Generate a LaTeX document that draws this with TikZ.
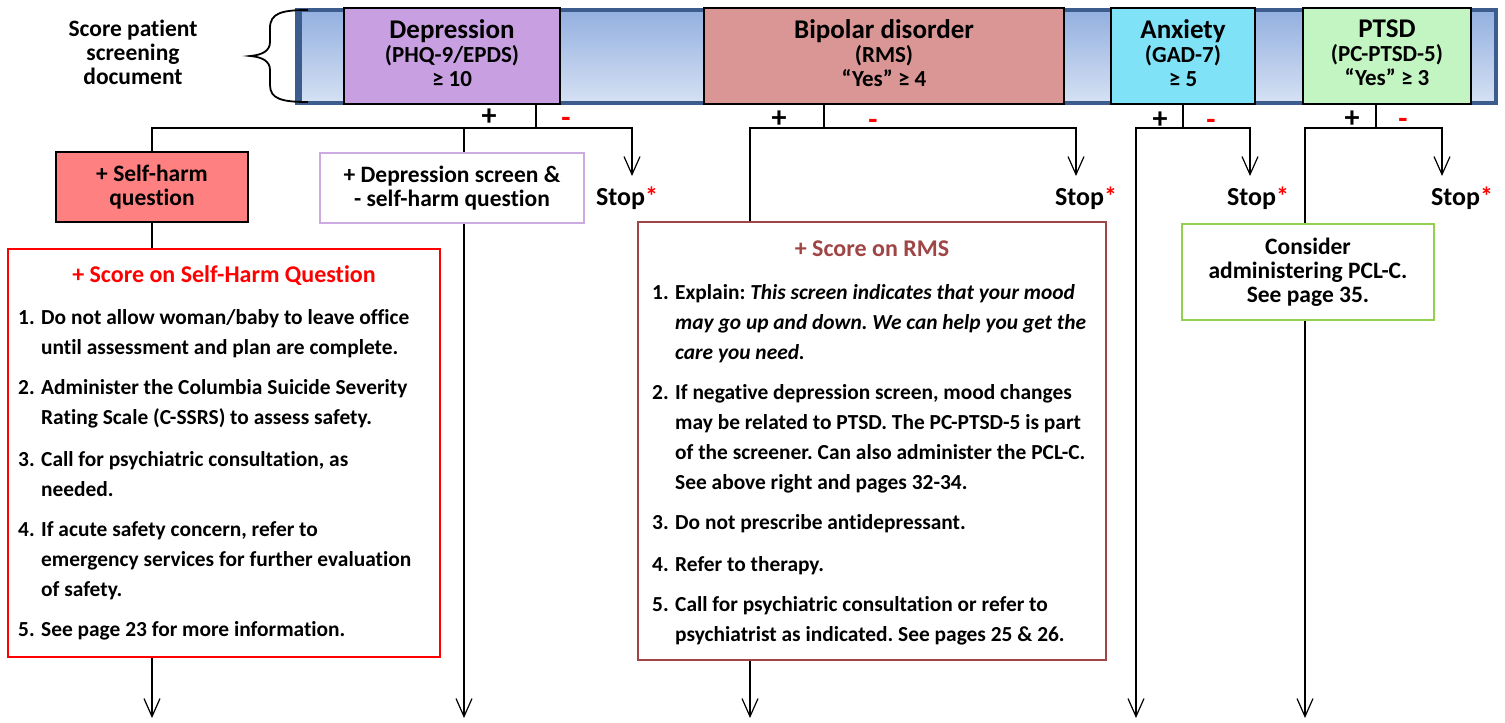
\documentclass[tikz,border=0pt]{standalone}
\usepackage{fontspec}
\setmainfont{Carlito}[Ligatures=NoCommon]
\usetikzlibrary{arrows.meta}
\definecolor{bandborder}{HTML}{3B5C8C}
\definecolor{bandtop}{HTML}{93B0E0}
\definecolor{bandbot}{HTML}{D6E1F3}
\definecolor{depfill}{HTML}{C8A0E2}
\definecolor{bipfill}{HTML}{D99694}
\definecolor{anxfill}{HTML}{80E2F6}
\definecolor{ptsdfill}{HTML}{C2F5C2}
\definecolor{shfill}{HTML}{FF8080}
\definecolor{dsborder}{HTML}{CCAAE2}
\definecolor{rmscol}{HTML}{A04545}
\definecolor{pclborder}{HTML}{92D050}
\definecolor{minusred}{HTML}{FF0000}
\frenchspacing
\begin{document}
\begin{tikzpicture}[x=1pt,y=-1pt,
  font=\bfseries,
  conn/.style={draw=black, line width=1.4pt},
  arr/.style={conn, -{Straight Barb[length=18pt,width=16pt,line width=1.2pt]}},
  topbox/.style={draw=black, line width=1.6pt, inner sep=0pt, minimum height=96pt},
  toptext/.style={inner sep=0pt, align=center, font=\bfseries\fontsize{23}{24}\selectfont},
  midbox/.style={line width=1.6pt, inner sep=0pt, align=center,
    font=\bfseries\fontsize{23.5}{24}\selectfont},
  bigbox/.style={line width=2.4pt, inner sep=0pt, fill=white},
  plus/.style={font=\bfseries\fontsize{30}{30}\selectfont, inner sep=0pt},
  minus/.style={font=\bfseries\fontsize{30}{30}\selectfont, text=minusred, inner sep=0pt},
  stoplab/.style={font=\bfseries\fontsize{26}{26}\selectfont, inner sep=0pt},
  heading/.style={font=\bfseries\fontsize{24}{24}\selectfont, inner sep=0pt},
  listtext/.style={inner sep=0pt, anchor=north west, align=left}
]
\useasboundingbox (0,0) rectangle (1505,723);

% left label and brace
\node[font=\bfseries\fontsize{23.5}{24}\selectfont, align=center, inner sep=0pt] (lbl) at (133,52)
  {Score patient\\screening\\document};

% band
\shade[top color=bandtop, bottom color=bandbot] (298,10) rectangle (1496,103);
\draw[bandborder, line width=4pt] (298,10) rectangle (1496,103);
\fill[bandborder] (295,8) rectangle (302,105);

\draw[line width=1.8pt] (308,10) .. controls (282,10) and (270,13) .. (270,28) -- (270,42)
  .. controls (270,51) and (262,55) .. (250,56)
  .. controls (262,57) and (270,61) .. (270,70) -- (270,85)
  .. controls (270,99) and (282,102) .. (308,102);

% top boxes
\node[topbox, fill=depfill, minimum width=216pt] (dep) at (452,56) {};
\node[topbox, fill=bipfill, minimum width=360pt] (bip) at (884,56) {};
\node[topbox, fill=anxfill, minimum width=144pt] (anx) at (1183,56) {};
\node[topbox, fill=ptsdfill, minimum width=168pt] (ptsd) at (1387,56) {};
\node[toptext] (dept) at (452,53)
  {{\fontsize{27}{24}\selectfont Depression}\\(PHQ-9/EPDS)\\≥ 10};
\node[toptext] (bipt) at (884,53)
  {{\fontsize{27}{24}\selectfont Bipolar disorder}\\(RMS)\\“Yes” ≥ 4};
\node[toptext] (anxt) at (1183,53)
  {{\fontsize{27}{24}\selectfont Anxiety}\\(GAD-7)\\≥ 5};
\node[toptext] (ptsdt) at (1387,53)
  {{\fontsize{27}{24}\selectfont PTSD}\\(PC-PTSD-5)\\“Yes” ≥ 3};

% junction coordinates
\coordinate (dj) at (536,128);
\coordinate (bj) at (824,128);
\coordinate (aj) at (1183,128);
\coordinate (pj) at (1376,128);

% + / - labels
\node[plus] (dplus) at (489,117) {+};
\node[minus] (dminus) at (566,122) {-};
\node[plus] (bplus) at (779,119) {+};
\node[minus] (bminus) at (873,124) {-};
\node[plus] (aplus) at (1160,120) {+};
\node[minus] (aminus) at (1211,124) {-};
\node[plus] (pplus) at (1352,119) {+};
\node[minus] (pminus) at (1403,123) {-};

% stop arrow tips and labels
\coordinate (s1) at (632,176);
\coordinate (s2) at (1076,176);
\coordinate (s3) at (1250,176);
\coordinate (s4) at (1442,176);
\node[stoplab] (stop1) at (627,198) {Stop\textcolor{minusred}{*}};
\node[stoplab] (stop2) at (1086,198) {Stop\textcolor{minusred}{*}};
\node[stoplab] (stop3) at (1258,198) {Stop\textcolor{minusred}{*}};
\node[stoplab] (stop4) at (1462,198) {Stop\textcolor{minusred}{*}};

% second-level boxes
\node[midbox, draw=black, fill=shfill, minimum width=192pt, minimum height=70pt] (sh) at (152,187)
  {+ Self-harm\\question};
\node[midbox, draw=dsborder, line width=2.8pt, fill=white, minimum width=264pt, minimum height=70pt] (ds) at (452,188)
  {+ Depression screen \&\\- self-harm question};
\node[midbox, draw=pclborder, line width=2.8pt, fill=white, minimum width=252pt, minimum height=96pt] (pcl) at (1308,272)
  {Consider\\administering PCL-C.\\See page 35.};

% big boxes
\node[bigbox, draw=minusred, minimum width=432pt, minimum height=408pt] (shq) at (224,453) {};
\node[heading, text=minusred] (shqt) at (224,276) {+ Score on Self-Harm Question};
\node[listtext, font=\bfseries\fontsize{21.4}{30}\selectfont] (shql) at (18,303) {%
\begin{tabular}{@{}l@{}l@{}}
\makebox[23pt][l]{1.} & Do not allow woman/baby to leave office\\
 & until assessment and plan are complete.\\[10pt]
2. & Administer the Columbia Suicide Severity\\
 & Rating Scale (C-SSRS) to assess safety.\\[12pt]
3. & Call for psychiatric consultation, as\\
 & needed.\\[10pt]
4. & If acute safety concern, refer to\\
 & emergency services for further evaluation\\
 & of safety.\\[10pt]
5. & See page 23 for more information.
\end{tabular}};

\node[bigbox, draw=rmscol, minimum width=468pt, minimum height=438pt] (rms) at (872,441) {};
\node[heading, text=rmscol] (rmst) at (872,249) {+ Score on RMS};
\node[listtext, font=\bfseries\fontsize{21.4}{30}\selectfont] (rmsl) at (652,278) {%
\begin{tabular}{@{}l@{}l@{}}
\makebox[23pt][l]{1.} & Explain: \textit{This screen indicates that your mood}\\
 & \textit{may go up and down. We can help you get the}\\
 & \textit{care you need.}\\[10pt]
2. & If negative depression screen, mood changes\\
 & may be related to PTSD. The PC-PTSD-5 is part\\
 & of the screener. Can also administer the PCL-C.\\
 & See above right and pages 32-34.\\[10pt]
3. & Do not prescribe antidepressant.\\[12pt]
4. & Refer to therapy.\\[10pt]
5. & Call for psychiatric consultation or refer to\\
 & psychiatrist as indicated. See pages 25 \& 26.
\end{tabular}};

% bottom coordinates
\coordinate (b1) at (152,718);
\coordinate (b2) at (464,718);
\coordinate (b3) at (750,718);
\coordinate (b4) at (1136,718);
\coordinate (b5) at (1305,718);

% connectors: depression
\draw[conn] (dep.south -| dj) -- (dj);
\draw[conn] (sh.north) |- (dj);
\draw[conn] (b2 |- ds.north) -- (b2 |- dj);
\draw[arr] (dj) -| (s1);
\draw[conn] (sh.south) -- (sh.south |- shq.north);
\draw[arr] (b1 |- shq.south) -- (b1);
\draw[arr] (b2 |- ds.south) -- (b2);

% bipolar
\draw[conn] (bip.south -| bj) -- (bj);
\draw[conn] (b3 |- rms.north) |- (bj);
\draw[arr] (bj) -| (s2);
\draw[arr] (b3 |- rms.south) -- (b3);

% anxiety
\draw[conn] (anx.south -| aj) -- (aj);
\draw[arr] (aj) -| (b4);
\draw[arr] (aj) -| (s3);

% ptsd
\draw[conn] (ptsd.south -| pj) -- (pj);
\draw[conn] (b5 |- pcl.north) |- (pj);
\draw[arr] (pj) -| (s4);
\draw[arr] (b5 |- pcl.south) -- (b5);
\end{tikzpicture}
\end{document}
